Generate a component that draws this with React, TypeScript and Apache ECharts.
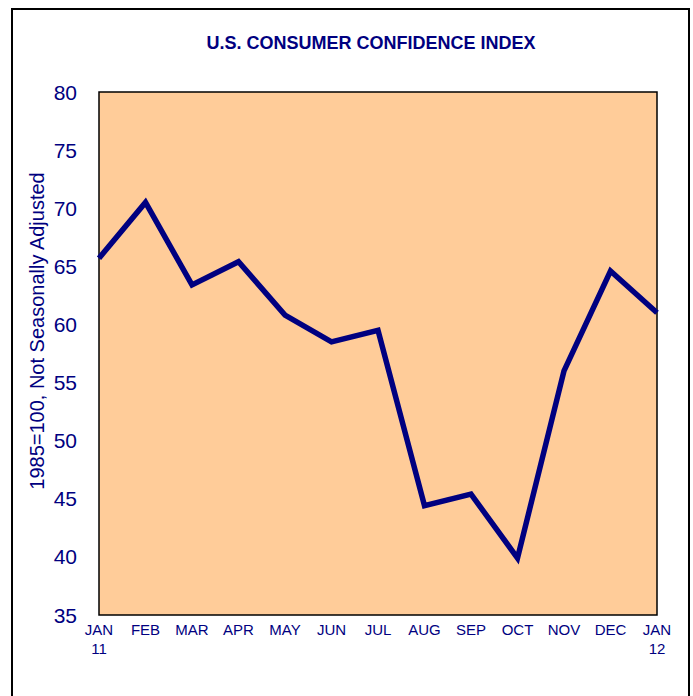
import React, { useEffect, useRef } from "react";
import * as echarts from "echarts";

const months = ["JAN\n11", "FEB", "MAR", "APR", "MAY", "JUN", "JUL", "AUG", "SEP", "OCT", "NOV", "DEC", "JAN\n12"];
const confidence = [65.7, 70.5, 63.4, 65.4, 60.8, 58.5, 59.5, 44.4, 45.4, 39.9, 56.0, 64.6, 61.0];
const yTicks = { min: 35, max: 80, step: 5 };
const titleText = "U.S. CONSUMER CONFIDENCE INDEX";
const yAxisTitle = "1985=100, Not Seasonally Adjusted";

const NAVY = "#000080";
const FONT = "Liberation Sans, Arial, sans-serif";

export default function App() {
  const ref = useRef<HTMLDivElement>(null);
  useEffect(() => {
    document.body.style.margin = "0";
    const chart = echarts.init(ref.current!, null, { renderer: "svg" });
    chart.setOption({
      animation: false,
      backgroundColor: "#fff",
      title: {
        text: titleText,
        left: 366,
        top: 29,
        textAlign: "center",
        textStyle: { color: NAVY, fontSize: 18, fontWeight: "bold", fontFamily: FONT },
      },
      graphic: [
        {
          type: "rect",
          shape: { x: 12, y: 9, width: 677, height: 700 },
          style: { fill: "none", stroke: "#000", lineWidth: 2 },
          z: 100,
        },
        {
          type: "text",
          x: 37,
          y: 331,
          rotation: Math.PI / 2,
          style: {
            text: yAxisTitle,
            fill: NAVY,
            fontSize: 20,
            fontFamily: FONT,
            textAlign: "center",
            textVerticalAlign: "middle",
          },
        },
      ],
      grid: {
        left: 99,
        top: 92,
        width: 558,
        height: 523,
        show: true,
        backgroundColor: "#FFCC99",
        borderColor: "#000",
        borderWidth: 1.5,
      },
      xAxis: {
        type: "category",
        data: months,
        boundaryGap: false,
        axisLine: { show: false },
        axisTick: { show: false },
        splitLine: { show: false },
        axisLabel: {
          color: NAVY,
          fontSize: 15,
          fontFamily: FONT,
          margin: 5,
          lineHeight: 19,
          interval: 0,
        },
      },
      yAxis: {
        type: "value",
        min: yTicks.min,
        max: yTicks.max,
        interval: yTicks.step,
        axisLine: { show: false },
        axisTick: { show: false },
        splitLine: { show: false },
        axisLabel: { color: NAVY, fontSize: 21, fontFamily: FONT, margin: 22 },
      },
      series: [
        {
          type: "line",
          data: confidence,
          symbol: "none",
          lineStyle: { color: NAVY, width: 5.5, join: "miter" },
        },
      ],
    });
    return () => chart.dispose();
  }, []);
  return <div ref={ref} style={{ width: 693, height: 696 }} />;
}
